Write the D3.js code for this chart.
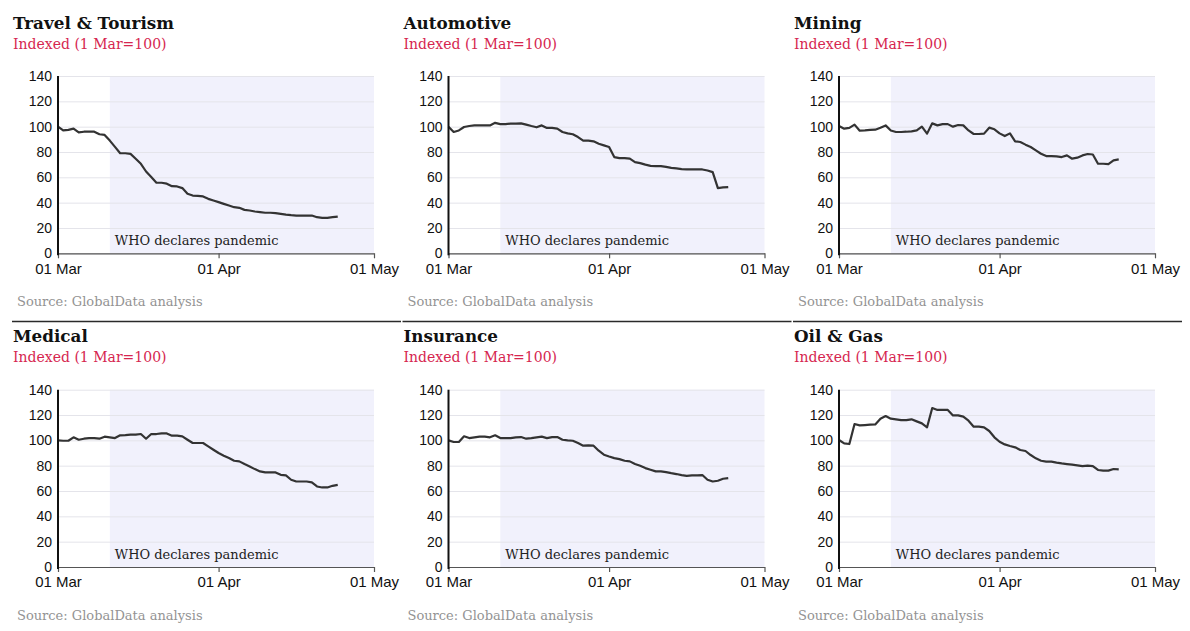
<!DOCTYPE html>
<html>
<head>
<meta charset="utf-8">
<script src="https://cdn.jsdelivr.net/npm/d3@7"></script>
<style>
  body { margin: 0; background: #fff; }
  svg { display: block; font-family: "DejaVu Serif", "Liberation Serif", serif; }
  .grid line { stroke: #e4e4ea; stroke-width: 1; }
  .grid path { display: none; }
  .ylab text { font-size: 14px; fill: #111; }
  .xaxis text { font-size: 15px; fill: #111; }
</style>
</head>
<body>
<svg id="chart" width="1190" height="631"></svg>
<script>
// sector names, in reading order
var sectors = ["Travel & Tourism", "Automotive", "Mining", "Medical", "Insurance", "Oil & Gas"];

// daily index values, 1 Mar .. 24 Apr (1 Mar = 100)
var travelTourism = [100, 97, 97.5, 98.5, 95.5, 96, 96, 96, 94, 93.5, 89, 84, 79, 79, 78.5, 74.7, 70.7, 64.6, 60.2, 55.7,
  55.7, 55, 53, 52.8, 51.5, 47, 45.6, 45.4, 44.9, 43, 41.7, 40.4, 39, 37.7, 36.4, 35.9, 34.3, 33.8, 33, 32.5,
  32, 32, 31.7, 31.2, 30.6, 30.1, 29.8, 29.8, 29.8, 29.8, 28.5, 28, 28, 28.5, 29];
var automotive = [100, 95.8, 97, 99.7, 100.5, 101, 101, 101, 101, 103, 102, 102, 102.4, 102.4, 102.6, 101.6, 100.5, 99.5, 101, 99,
  99, 98.4, 95.8, 94.7, 94, 91.8, 89, 89, 88.4, 86.5, 85.2, 83.9, 76, 75.2, 75.2, 74.7, 72, 71.2, 70, 69,
  68.9, 68.9, 68.3, 67.5, 67, 66.5, 66.2, 66.2, 66.2, 66.2, 65.4, 64.1, 51.5, 52, 52.3];
var mining = [100.5, 98.4, 99, 101.6, 96.8, 97, 97.4, 97.6, 99.2, 101, 97, 95.8, 95.8, 96, 96.3, 97, 100, 94.5, 102.6, 101,
  102, 102, 100, 101.3, 101, 97, 94.2, 94.2, 94.5, 99.2, 97.9, 94.7, 92.6, 94.7, 88.4, 87.9, 85.8, 83.9, 81.3, 78.6,
  76.8, 76.8, 76.5, 76, 77.3, 74.7, 75.5, 77.3, 78.4, 78, 70.7, 70.7, 70.4, 73.4, 74.1];
var medical = [100, 99.7, 99.7, 102.4, 100.5, 101.3, 101.8, 101.8, 101.3, 102.9, 102.4, 101.8, 104, 104.2, 104.5, 104.5, 105, 101.3, 105, 105,
  105.5, 105.5, 103.7, 103.7, 103.2, 100.5, 97.9, 97.9, 97.9, 95.3, 92.6, 90, 87.9, 86, 83.9, 83.4, 81.3, 79.4, 77.3, 75.5,
  74.7, 74.7, 74.7, 72.8, 72.3, 68.9, 67.5, 67.5, 67.5, 66.8, 63.6, 62.8, 62.8, 64.1, 64.9];
var insurance = [100, 98.7, 98.7, 103.2, 101.8, 102.4, 102.9, 102.9, 102.4, 104, 101.8, 101.8, 101.8, 102.4, 102.6, 101.3, 101.8, 102.4, 102.9, 101.8,
  102.6, 102.6, 100.5, 100, 99.7, 97.9, 95.8, 96, 95.8, 91.8, 88.7, 87.3, 86, 85.2, 83.9, 83.4, 81.3, 79.9, 78.1, 76.8,
  75.5, 75.5, 74.9, 74.1, 73.4, 72.6, 72, 72.3, 72.3, 72.6, 68.9, 67.5, 68.1, 69.7, 70.2];
var oilGas = [100.3, 97.6, 97.1, 112.9, 111.8, 112.1, 112.4, 112.6, 117.1, 119.2, 117.1, 116.6, 116, 116, 116.6, 115, 113.4, 110.3, 125.5, 124,
  124, 124, 119.7, 119.7, 118.7, 115.5, 110.8, 110.8, 110.3, 107.4, 102.4, 98.9, 96.8, 95.5, 94.5, 92.4, 91.6, 88.4, 85.8, 83.9,
  83.2, 83.2, 82.4, 81.8, 81.3, 80.8, 80.3, 79.7, 80, 79.7, 76.6, 76.1, 76.1, 77.4, 77.1];

var seriesList = [travelTourism, automotive, mining, medical, insurance, oilGas];

var yTicks = [0, 20, 40, 60, 80, 100, 120, 140];
var xTickLabels = ["01 Mar", "01 Apr", "01 May"];
var subtitle = "Indexed (1 Mar=100)";
var sourceText = "Source: GlobalData analysis";
var eventLabel = "WHO declares pandemic";

var parseDay = d3.utcParse("%d %b %Y");
var startDate = parseDay("01 Mar 2020"),
    endDate = parseDay("01 May 2020"),
    pandemicDate = parseDay("11 Mar 2020");
var dates = d3.utcDay.range(startDate, parseDay("25 Apr 2020"));
var xTickDates = xTickLabels.map(l => parseDay(l + " 2020"));

var svg = d3.select("#chart");

var colX = [0, 390.5, 781],
    rowY = [0, 313.7];

var plot = { left: 58, right: 374, top: 76, bottom: 253.3 };

var x = d3.scaleUtc()
  .domain([startDate, endDate])
  .range([plot.left, plot.right]);

var y = d3.scaleLinear()
  .domain([0, 140])
  .range([plot.bottom, plot.top]);

var line = d3.line()
  .x((d, i) => x(dates[i]))
  .y(d => y(d));

sectors.forEach(function(name, k) {
  var col = k % 3, row = Math.floor(k / 3);
  var g = svg.append("g")
    .attr("transform", "translate(" + colX[col] + "," + rowY[row] + ")");

  // top rule on the second row
  if (row === 1) {
    svg.append("line")
      .attr("x1", colX[col] + 12).attr("x2", colX[col] + 401)
      .attr("y1", 321.5).attr("y2", 321.5)
      .attr("stroke", "#2a2a2a")
      .attr("stroke-width", 1.3);
  }

  g.append("text")
    .attr("x", 13).attr("y", 28.5)
    .style("font-size", "16.8px")
    .style("font-weight", "bold")
    .style("fill", "#111")
    .text(name);

  g.append("text")
    .attr("x", 13).attr("y", 48.5)
    .style("font-size", "14px")
    .style("fill", "#d6264f")
    .text(subtitle);

  // shaded period after the pandemic declaration
  g.append("rect")
    .attr("x", x(pandemicDate))
    .attr("y", y(140))
    .attr("width", x(endDate) - x(pandemicDate))
    .attr("height", y(0) - y(140))
    .attr("fill", "#f1f1fc");

  // gridlines
  g.append("g")
    .attr("class", "grid")
    .attr("transform", "translate(" + plot.left + ",0)")
    .call(d3.axisLeft(y)
      .tickValues(yTicks)
      .tickSize(-(plot.right - plot.left))
      .tickFormat(""));

  g.append("text")
    .attr("x", x(pandemicDate) + 5)
    .attr("y", y(0) - 8)
    .style("font-size", "13px")
    .style("fill", "#222")
    .text(eventLabel);

  g.append("path")
    .datum(seriesList[k])
    .attr("d", line)
    .attr("fill", "none")
    .attr("stroke", "#333")
    .attr("stroke-width", 2.2)
    .attr("stroke-linejoin", "round");

  // x axis
  var xAxis = g.append("g")
    .attr("class", "xaxis")
    .attr("transform", "translate(0," + plot.bottom + ")")
    .call(d3.axisBottom(x)
      .tickValues(xTickDates)
      .tickSize(5)
      .tickSizeOuter(0)
      .tickFormat((d, i) => xTickLabels[i]));
  xAxis.select(".domain").attr("stroke", "#555").attr("stroke-width", 1.2);
  xAxis.selectAll(".tick line").attr("stroke", "#555").attr("stroke-width", 1.2);
  xAxis.selectAll("text").attr("dy", "0.95em").attr("y", 6);

  // y axis labels
  var yAxis = g.append("g")
    .attr("class", "ylab")
    .attr("transform", "translate(" + plot.left + ",0)")
    .call(d3.axisLeft(y)
      .tickValues(yTicks)
      .tickSize(0)
      .tickPadding(6));
  yAxis.select(".domain").remove();

  g.append("line")
    .attr("x1", plot.left).attr("x2", plot.left)
    .attr("y1", plot.top).attr("y2", plot.bottom + 2)
    .attr("stroke", "#111")
    .attr("stroke-width", 2);

  g.append("text")
    .attr("x", 17).attr("y", 306)
    .style("font-size", "13px")
    .style("fill", "#939393")
    .text(sourceText);
});
</script>
</body>
</html>
